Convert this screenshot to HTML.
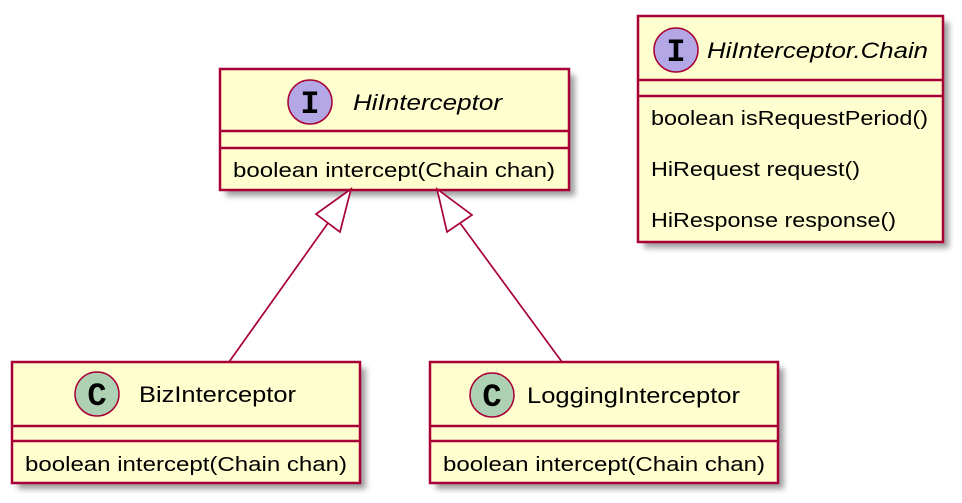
<!DOCTYPE html>
<html><head><style>html,body{margin:0;padding:0;background:#fff}svg{display:block}</style></head><body>
<svg width="962" height="503" viewBox="0 0 962 503" xmlns="http://www.w3.org/2000/svg" font-family="Liberation Sans, DejaVu Sans, sans-serif">
<defs><filter id="sh" x="-10%" y="-10%" width="130%" height="130%"><feGaussianBlur stdDeviation="3"/></filter></defs>
<g fill="#777" opacity="0.7" filter="url(#sh)">
<rect x="226" y="75" width="349" height="121"/>
<rect x="18" y="368" width="348" height="121"/>
<rect x="436" y="368" width="348" height="121"/>
<rect x="644" y="22" width="305" height="226"/>
</g>
<g fill="#FEFECE" stroke="#A80036" stroke-width="2.5">
<rect x="220" y="69" width="349" height="121"/>
<rect x="12" y="362" width="348" height="121"/>
<rect x="430" y="362" width="348" height="121"/>
<rect x="638" y="16" width="305" height="226"/>
<line x1="220" y1="131" x2="569" y2="131"/><line x1="220" y1="148" x2="569" y2="148"/>
<line x1="12" y1="426" x2="360" y2="426"/><line x1="12" y1="441" x2="360" y2="441"/>
<line x1="430" y1="426" x2="778" y2="426"/><line x1="430" y1="441" x2="778" y2="441"/>
<line x1="638" y1="80" x2="943" y2="80"/><line x1="638" y1="96" x2="943" y2="96"/>
</g>
<g stroke="#A80036" stroke-width="1.7" fill="none">
<line x1="328" y1="223" x2="229" y2="362"/>
<polygon points="351,189 316,214 340,232" fill="#fff"/>
<line x1="460" y1="223" x2="562" y2="362"/>
<polygon points="437,189 472,215 447,232" fill="#fff"/>
</g>
<g stroke="#A80036" stroke-width="1.5">
<circle cx="310" cy="102" r="22" fill="#B4A7E5"/>
<circle cx="676" cy="50" r="22" fill="#B4A7E5"/>
<circle cx="97" cy="394" r="22" fill="#ADD1B2"/>
<circle cx="492" cy="395" r="22" fill="#ADD1B2"/>
</g>
<g font-family="Liberation Mono, monospace" font-weight="bold" font-size="32" text-anchor="middle" fill="#000">
<text x="310" y="113">I</text><text x="676" y="61">I</text>
<text x="97" y="405">C</text><text x="492" y="406">C</text>
</g>
<g font-size="22" fill="#000">
<text x="353" y="110" font-style="italic" textLength="149" lengthAdjust="spacingAndGlyphs">HiInterceptor</text>
<text x="707" y="58" font-style="italic" textLength="221" lengthAdjust="spacingAndGlyphs">HiInterceptor.Chain</text>
<text x="139" y="402" textLength="157" lengthAdjust="spacingAndGlyphs">BizInterceptor</text>
<text x="527" y="403" textLength="213" lengthAdjust="spacingAndGlyphs">LoggingInterceptor</text>
</g>
<g font-size="20" fill="#000">
<text x="233" y="177" textLength="322" lengthAdjust="spacingAndGlyphs">boolean intercept(Chain chan)</text>
<text x="25" y="471" textLength="322" lengthAdjust="spacingAndGlyphs">boolean intercept(Chain chan)</text>
<text x="443" y="471" textLength="322" lengthAdjust="spacingAndGlyphs">boolean intercept(Chain chan)</text>
<text x="651" y="125" textLength="277" lengthAdjust="spacingAndGlyphs">boolean isRequestPeriod()</text>
<text x="651" y="176" textLength="209" lengthAdjust="spacingAndGlyphs">HiRequest request()</text>
<text x="651" y="227" textLength="245" lengthAdjust="spacingAndGlyphs">HiResponse response()</text>
</g>
</svg>
</body></html>
